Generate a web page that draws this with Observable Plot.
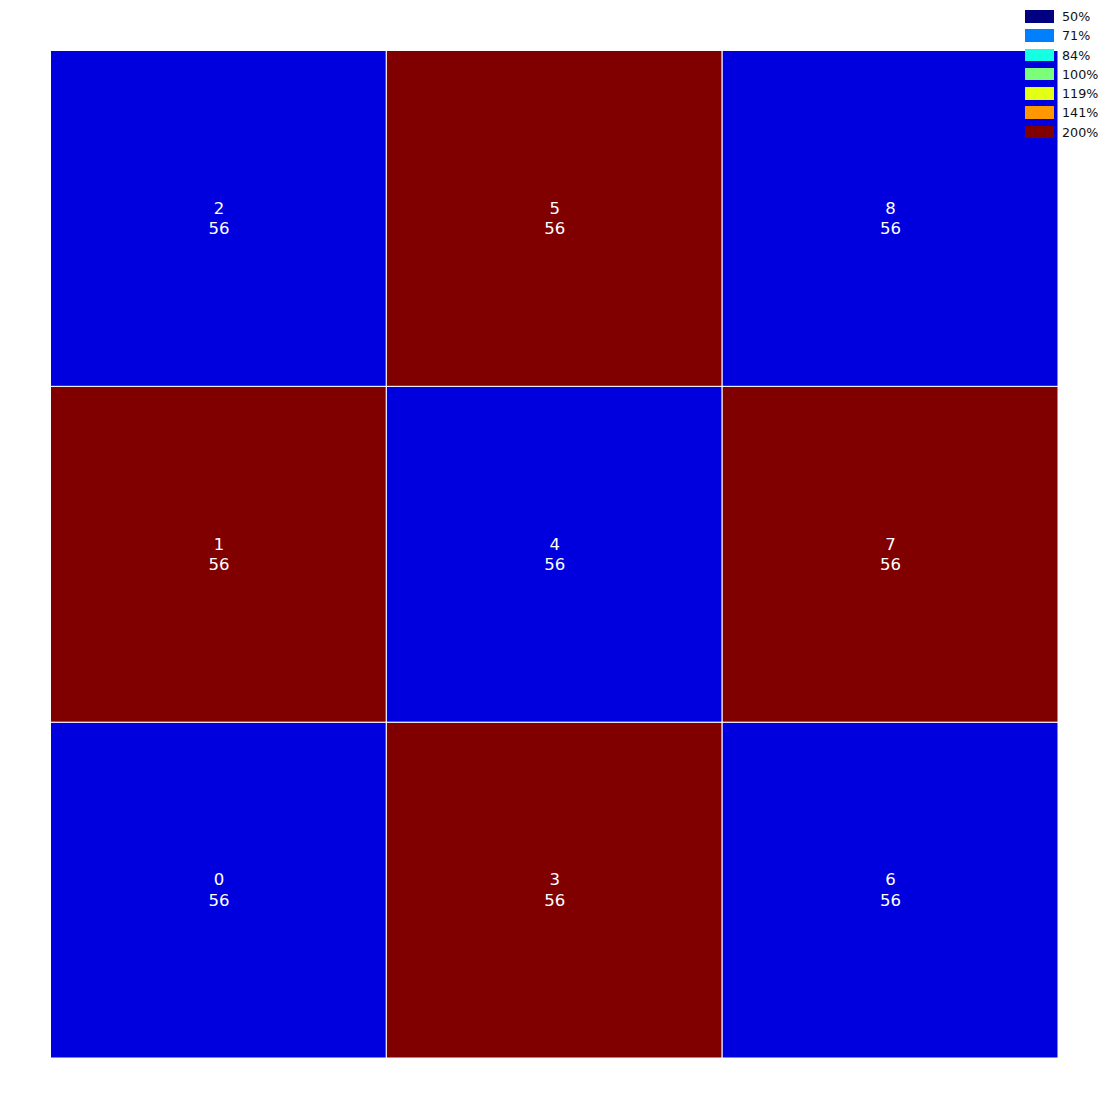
<!DOCTYPE html>
<html>
<head>
<meta charset="utf-8">
<script src="https://cdn.jsdelivr.net/npm/d3@7"></script>
<script src="https://cdn.jsdelivr.net/npm/@observablehq/plot@0.6"></script>
<style>
  html, body { margin: 0; padding: 0; background: #fff; }
  #wrap { position: relative; width: 1108px; height: 1108px; font-family: "DejaVu Sans", sans-serif; }
  #legend { position: absolute; left: 1025px; top: 10px; }
  .item { position: relative; height: 19.3px; }
  .sw { position: absolute; left: 0; top: 0; width: 29px; height: 12.5px; }
  .lb { position: absolute; left: 37px; top: 0px; font-size: 12.7px; line-height: 14px; color: #111; white-space: nowrap; }
</style>
</head>
<body>
<div id="wrap"></div>
<script>
// Cell data (column-major from bottom-left)
const cellIds   = [0, 1, 2, 3, 4, 5, 6, 7, 8];
const cellCols  = [0, 0, 0, 1, 1, 1, 2, 2, 2];
const cellRows  = [0, 1, 2, 0, 1, 2, 0, 1, 2];
const cellCounts = [56, 56, 56, 56, 56, 56, 56, 56, 56];
const cellRatios = [0.56, 2, 0.56, 2, 0.56, 2, 0.56, 2, 0.56];

// Legend
const legendValues = [0.5, 0.7071, 0.8409, 1, 1.1892, 1.4142, 2];
const legendLabels = ["50%", "71%", "84%", "100%", "119%", "141%", "200%"];

// matplotlib "jet" colormap
function seg(knots, t) {
  for (let i = 1; i < knots.length; i++) {
    if (t <= knots[i][0]) {
      const [x0, y0] = knots[i - 1], [x1, y1] = knots[i];
      return y0 + (y1 - y0) * (t - x0) / (x1 - x0);
    }
  }
  return knots[knots.length - 1][1];
}
const R = [[0, 0], [0.35, 0], [0.66, 1], [0.89, 1], [1, 0.5]];
const G = [[0, 0], [0.125, 0], [0.375, 1], [0.64, 1], [0.91, 0], [1, 0]];
const B = [[0, 0.5], [0.11, 1], [0.34, 1], [0.65, 0], [1, 0]];
function jet(t) {
  t = Math.max(0, Math.min(1, t));
  const c = v => Math.round(Math.max(0, Math.min(1, v)) * 255);
  return `rgb(${c(seg(R, t))},${c(seg(G, t))},${c(seg(B, t))})`;
}

const cells = cellIds.map((id, i) => ({
  id, col: cellCols[i], row: cellRows[i], count: cellCounts[i], ratio: cellRatios[i]
}));

const plot = Plot.plot({
  width: 1108,
  height: 1108,
  marginLeft: 50.5, marginTop: 50.5, marginRight: 50, marginBottom: 50,
  x: { domain: [0, 3], axis: null },
  y: { domain: [0, 3], axis: null },
  color: { type: "log", base: 2, domain: [0.5, 2], clamp: true, interpolate: jet },
  style: { fontFamily: "DejaVu Sans, sans-serif", background: "white" },
  marks: [
    Plot.rect(cells, {
      x1: d => d.col, x2: d => d.col + 1,
      y1: d => d.row, y2: d => d.row + 1,
      fill: "ratio", stroke: "white", strokeWidth: 1
    }),
    Plot.text(cells, {
      x: d => d.col + 0.5, y: d => d.row + 0.5,
      text: d => `${d.id}\n${d.count}`,
      fill: "white", fontSize: 16.5, lineHeight: 1.22, dy: -1.5
    })
  ]
});

const wrap = document.getElementById("wrap");
wrap.appendChild(plot);

const colorScale = plot.scale("color");
const legend = document.createElement("div");
legend.id = "legend";
legendValues.forEach((v, i) => {
  const item = document.createElement("div");
  item.className = "item";
  const sw = document.createElement("div");
  sw.className = "sw";
  sw.style.background = colorScale.apply(v);
  const lb = document.createElement("div");
  lb.className = "lb";
  lb.textContent = legendLabels[i];
  item.appendChild(sw);
  item.appendChild(lb);
  legend.appendChild(item);
});
wrap.appendChild(legend);
</script>
</body>
</html>
